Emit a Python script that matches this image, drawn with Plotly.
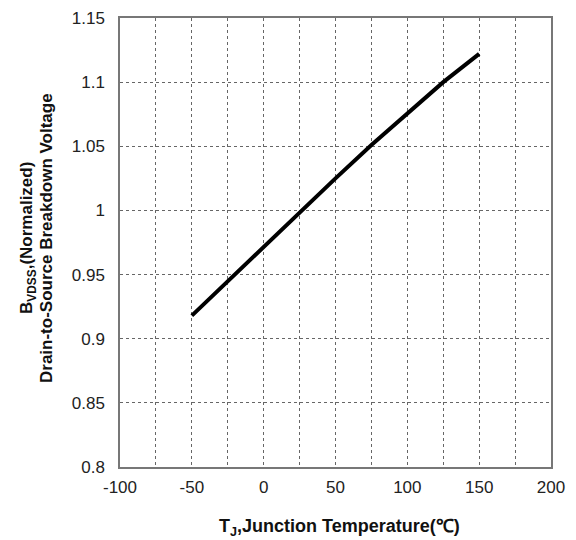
import plotly.graph_objects as go

temperature_c = [-50, -25, 0, 25, 50, 75, 100, 125, 150]
bvdss_normalized = [0.918, 0.945, 0.972, 0.999, 1.025, 1.051, 1.076, 1.100, 1.122]

x_ticks = [-100, -50, 0, 50, 100, 150, 200]
x_tick_labels = ["-100", "-50", "0", "50", "100", "150", "200"]
x_minor_grid = [-75, -25, 25, 75, 125, 175]
y_ticks = [0.8, 0.85, 0.9, 0.95, 1.0, 1.05, 1.1, 1.15]
y_tick_labels = ["0.8", "0.85", "0.9", "0.95", "1", "1.05", "1.1", "1.15"]

x_title = "<b>T<sub>J</sub>,Junction Temperature(℃)</b>"
y_title_1 = "<b>B<sub>VDSS</sub>,(Normalized)</b>"
y_title_2 = "<b>Drain-to-Source Breakdown Voltage</b>"

fig = go.Figure()
fig.add_trace(go.Scatter(
    x=temperature_c, y=bvdss_normalized, mode="lines",
    line=dict(color="black", width=4), showlegend=False,
))

font_family = "Liberation Sans, Arial, sans-serif"
fig.update_layout(
    width=568, height=532,
    margin=dict(l=112, r=25, t=10, b=73),
    paper_bgcolor="white", plot_bgcolor="white",
    font=dict(family=font_family, size=17, color="#222"),
)
fig.update_xaxes(
    range=[-100, 200], tickvals=x_ticks, ticktext=x_tick_labels,
    showgrid=True, gridcolor="#666", griddash="dot", gridwidth=1,
    minor=dict(tickvals=x_minor_grid, showgrid=True,
               gridcolor="#666", griddash="dot", gridwidth=1),
    showline=True, linecolor="#777", linewidth=1.5, mirror=True,
    ticks="", zeroline=False, tickfont=dict(size=17, color="#222"),
    ticklabelstandoff=4, automargin=False,
)
fig.update_yaxes(
    range=[0.8, 1.15], tickvals=y_ticks, ticktext=y_tick_labels,
    showgrid=True, gridcolor="#666", griddash="dot", gridwidth=1,
    showline=True, linecolor="#777", linewidth=1.5, mirror=True,
    ticks="", zeroline=False, tickfont=dict(size=17, color="#222"),
    ticklabelstandoff=10, automargin=False,
)

fig.add_annotation(text=x_title, xref="paper", yref="paper",
                   x=0.51, y=-0.134, xanchor="center", yanchor="middle",
                   showarrow=False, font=dict(size=18, color="#111"))
fig.add_annotation(text=y_title_1, xref="paper", yref="paper",
                   x=-0.2135, y=0.51, xanchor="center", yanchor="middle",
                   textangle=-90, showarrow=False, font=dict(size=17, color="#111"))
fig.add_annotation(text=y_title_2, xref="paper", yref="paper",
                   x=-0.1717, y=0.51, xanchor="center", yanchor="middle",
                   textangle=-90, showarrow=False, font=dict(size=17, color="#111"))

fig.write_html("out.html")
